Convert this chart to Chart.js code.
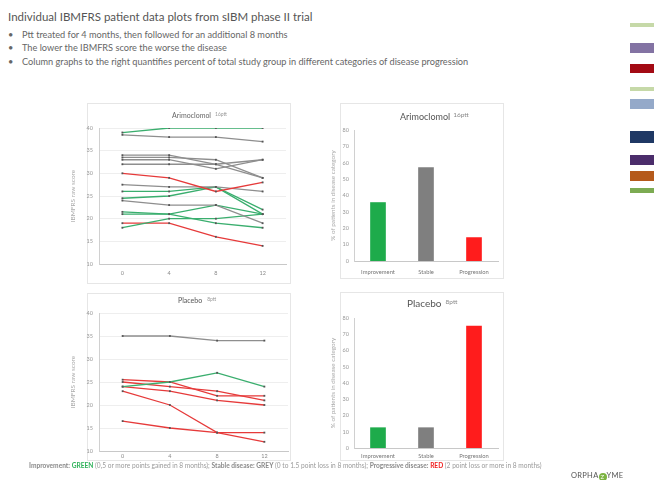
<!DOCTYPE html>
<html>
<head>
<meta charset="utf-8">
<script src="https://cdn.jsdelivr.net/npm/chart.js@4.4.1/dist/chart.umd.min.js"></script>
<style>
  body { margin:0; width:654px; height:480px; background:#fff; position:relative; overflow:hidden; font-family:Lato, "Open Sans", sans-serif; }
  #head { position:absolute; left:8px; top:10px; font-size:11.5px; color:#555; white-space:nowrap; }
  ul { position:absolute; left:8px; top:28px; margin:0; padding:0; list-style:none; font-size:9.2px; color:#666; line-height:13.4px; white-space:nowrap; }
  li { position:relative; padding-left:14px; }
  li::before { content:"\2022"; position:absolute; left:0; }
  .card { position:absolute; border:1px solid #e6e6e6; box-sizing:border-box; }
  canvas { position:absolute; }
  .sw { position:absolute; left:630px; width:24px; }
  #foot { position:absolute; left:29px; top:461px; font-size:6.6px; color:#9a9a9a; white-space:nowrap; }
  #foot b { color:#8a8a8a; }
  #foot .g { color:#2fb25a; } #foot .gy { color:#888; } #foot .r { color:#f02020; }
  #logo { position:absolute; left:571px; top:471px; font-size:7.5px; color:#555; letter-spacing:0.3px; white-space:nowrap; }
  #logo span { display:inline-block; width:8px; height:8px; border-radius:50%; background:#7cb342; color:#fff; font-size:6px; text-align:center; line-height:8px; vertical-align:-1px; }
</style>
</head>
<body>
<div id="head">Individual IBMFRS patient data plots from sIBM phase II trial</div>
<ul>
  <li>Ptt treated for 4 months, then followed for an additional 8 months</li>
  <li>The lower the IBMFRS score the worse the disease</li>
  <li>Column graphs to the right quantifies percent of total study group in different categories of disease progression</li>
</ul>

<div class="sw" style="top:23px;height:4px;background:#c6d9a8"></div>
<div class="sw" style="top:43px;height:10px;background:#8373a3"></div>
<div class="sw" style="top:64px;height:9px;background:#a30a14"></div>
<div class="sw" style="top:87px;height:4px;background:#c6d9a8"></div>
<div class="sw" style="top:99px;height:10px;background:#94a9c9"></div>
<div class="sw" style="top:131px;height:12px;background:#1f3864"></div>
<div class="sw" style="top:155px;height:10px;background:#4b2d6b"></div>
<div class="sw" style="top:171px;height:10px;background:#b55a1b"></div>
<div class="sw" style="top:188px;height:5px;background:#7cab52"></div>

<div class="card" style="left:87px;top:103px;width:204px;height:181px"></div>
<div class="card" style="left:340px;top:103px;width:164px;height:176px"></div>
<div class="card" style="left:87px;top:293px;width:204px;height:168px"></div>
<div class="card" style="left:340px;top:292px;width:164px;height:169px"></div>

<canvas id="lineArimo" style="left:60px;top:103px" width="232" height="180"></canvas>
<canvas id="barArimo" style="left:325px;top:103px" width="180" height="178"></canvas>
<canvas id="linePlacebo" style="left:60px;top:293px" width="232" height="168"></canvas>
<canvas id="barPlacebo" style="left:325px;top:292px" width="180" height="170"></canvas>

<div id="foot"><b>Improvement:</b> <b class="g">GREEN</b> (0,5 or more points gained in 8 months); <b>Stable disease:</b> <b class="gy">GREY</b> (0 to 1.5 point loss in 8 months); <b>Progressive disease:</b> <b class="r">RED</b> (2 point loss or more in 8 months)</div>
<div id="logo">ORPHA<span>Z</span>YME</div>

<script>
const months = ["0", "4", "8", "12"];
const scoreTicks = [10, 15, 20, 25, 30, 35, 40];
const pctTicks = [0, 10, 20, 30, 40, 50, 60, 70, 80];
const outcomes = ["Improvement", "Stable", "Progression"];

// one row per patient, IBMFRS at month 0 / 4 / 8 / 12
const arimoScores = [
  [39, 40, 40, 40],
  [38.5, 38, 38, 37],
  [34, 34, 32, 29],
  [33.5, 33.5, 33, 29],
  [33, 33, 31, 33],
  [32, 32, 32, 33],
  [30, 29, 26, 28],
  [27.5, 27, 27, 26],
  [26, 26, 27, 22],
  [24.5, 25, 27, 21],
  [24, 23, 23, 19],
  [21.5, 21, 23, 21],
  [21, 21, 19, 18],
  [18, 20, 20, 21],
  [19, 19, 16, 14]
];
const arimoGroups = ["imp", "stable", "stable", "stable", "stable", "stable", "prog", "stable",
                     "imp", "imp", "stable", "imp", "imp", "imp", "prog"];

const placeboScores = [
  [35, 35, 34, 34],
  [24, 25, 27, 24],
  [25.5, 25, 22, 22],
  [25, 24, 23, 21],
  [24, 23, 21, 20],
  [23, 20, 14, 14],
  [16.5, 15, 14, 12]
];
const placeboGroups = ["stable", "imp", "prog", "prog", "prog", "prog", "prog"];

const arimoPct = [35.7, 57.1, 14.3];
const placeboPct = [12.5, 12.5, 75];

const groupColor = { imp: "#3aae6e", stable: "#8e8e8e", prog: "#e63a3a" };
const barColors = ["#1eab4b", "#7f7f7f", "#ff1c1c"];
const FONT = "Lato";

// title with a small raised tag ("16ptt") next to it
const tagTitle = {
  id: "tagTitle",
  afterDraw(chart, args, o) {
    if (!o || !o.text) return;
    const { ctx } = chart;
    ctx.save();
    ctx.textBaseline = "alphabetic";
    ctx.fillStyle = o.color;
    ctx.font = `${o.size}px ${FONT}`;
    ctx.fillText(o.text, o.x, o.y);
    const w = ctx.measureText(o.text).width;
    ctx.fillStyle = o.tagColor;
    ctx.font = `${o.tagSize}px ${FONT}`;
    ctx.fillText(o.tag, o.x + w + o.gap, o.y - o.raise);
    ctx.restore();
  }
};

function lineChart(id, scores, groups, area, title) {
  const el = document.getElementById(id);
  return new Chart(el, {
    type: "line",
    data: {
      labels: months,
      datasets: scores.map((s, i) => ({
        data: s,
        borderColor: groupColor[groups[i]],
        borderWidth: 1.3,
        pointRadius: 1.3,
        pointStyle: "rect",
        pointBackgroundColor: "#555",
        pointBorderWidth: 0,
        tension: 0
      }))
    },
    options: {
      responsive: false,
      animation: false,
      events: [],
      layout: { padding: { top: area.top, right: el.width - area.right, left: 0, bottom: 0 } },
      plugins: { legend: { display: false }, tooltip: { enabled: false }, tagTitle: title },
      scales: {
        x: {
          type: "category",
          offset: true,
          grid: { display: false, drawTicks: false },
          border: { color: "#c8c8c8" },
          ticks: { color: "#8a8a8a", font: { family: FONT, size: 5.5 }, padding: area.tickPad },
          afterFit: (s) => { s.height = el.height - area.bottom; }
        },
        y: {
          min: scoreTicks[0],
          max: scoreTicks[scoreTicks.length - 1],
          afterBuildTicks: (s) => { s.ticks = scoreTicks.map(v => ({ value: v })); },
          grid: { color: "#eeeeee", drawTicks: false },
          border: { color: "#d0d0d0" },
          ticks: { color: "#999", font: { family: FONT, size: 5.5 }, padding: 6 },
          title: { display: true, text: "IBMFRS raw score", color: "#aaa", font: { family: FONT, size: 6.5 }, padding: { top: 9, bottom: 0 } },
          afterFit: (s) => { s.width = area.left; }
        }
      }
    },
    plugins: [tagTitle]
  });
}

function barChart(id, values, area, title) {
  const el = document.getElementById(id);
  return new Chart(el, {
    type: "bar",
    data: {
      labels: outcomes,
      datasets: [{ data: values, backgroundColor: barColors, barThickness: 15, borderWidth: 0 }]
    },
    options: {
      responsive: false,
      animation: false,
      events: [],
      layout: { padding: { top: area.top, right: el.width - area.right, left: 0, bottom: 0 } },
      plugins: { legend: { display: false }, tooltip: { enabled: false }, tagTitle: title },
      scales: {
        x: {
          grid: { display: false, drawTicks: false },
          border: { color: "#c8c8c8" },
          ticks: { color: "#777", font: { family: FONT, size: 5.8 }, padding: area.tickPad },
          afterFit: (s) => { s.height = el.height - area.bottom; }
        },
        y: {
          min: pctTicks[0],
          max: pctTicks[pctTicks.length - 1],
          afterBuildTicks: (s) => { s.ticks = pctTicks.map(v => ({ value: v })); },
          grid: { display: false, drawTicks: false },
          border: { color: "#d0d0d0" },
          ticks: { color: "#999", font: { family: FONT, size: 5.5 }, padding: 5 },
          title: { display: true, text: "% of patients in disease category", color: "#aaa", font: { family: FONT, size: 6.3 }, padding: { top: 4, bottom: 0 } },
          afterFit: (s) => { s.width = area.left; }
        }
      }
    },
    plugins: [tagTitle]
  });
}

lineChart("lineArimo", arimoScores, arimoGroups,
  { left: 39, top: 25, right: 226, bottom: 161, tickPad: 6 },
  { text: "Arimoclomol", tag: "16ptt", x: 112, y: 15, size: 7, tagSize: 5, raise: 2, gap: 4, color: "#666", tagColor: "#999" });

barChart("barArimo", arimoPct,
  { left: 29, top: 27, right: 173, bottom: 158, tickPad: 8 },
  { text: "Arimoclomol", tag: "16ptt", x: 75, y: 17, size: 9, tagSize: 6.5, raise: 3, gap: 3, color: "#555", tagColor: "#888" });

lineChart("linePlacebo", placeboScores, placeboGroups,
  { left: 39, top: 20, right: 228, bottom: 158, tickPad: 2 },
  { text: "Placebo", tag: "8ptt", x: 118, y: 10, size: 7, tagSize: 5, raise: 2, gap: 5, color: "#555", tagColor: "#999" });

barChart("barPlacebo", placeboPct,
  { left: 29, top: 26, right: 173, bottom: 156, tickPad: 5 },
  { text: "Placebo", tag: "8ptt", x: 82, y: 15, size: 10, tagSize: 6.5, raise: 3, gap: 4, color: "#555", tagColor: "#888" });
</script>
</body>
</html>
